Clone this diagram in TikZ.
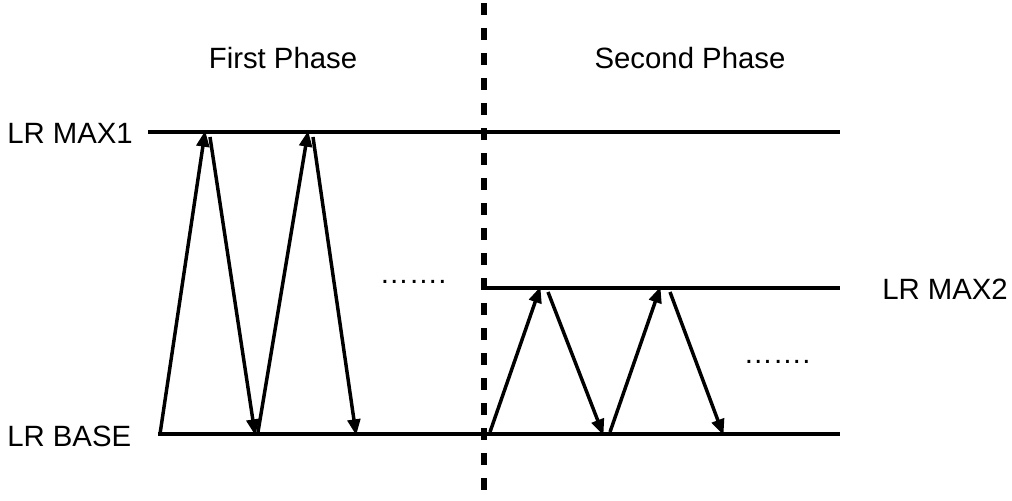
\documentclass[tikz,border=0pt]{standalone}
\usepackage{fontspec}
\setmainfont{Liberation Sans}
\usetikzlibrary{arrows.meta}
\begin{document}
\begin{tikzpicture}[x=0.75pt,y=-0.75pt,
  lvl/.style={line width=2.8pt},
  arr/.style={line width=2.6pt,-{Triangle[length=12pt,width=9.5pt]},shorten >=-1pt},
  lbl/.style={font=\fontsize{22}{26}\selectfont,inner sep=0pt},
  phasesep/.style={line width=3.8pt,dash pattern=on 9pt off 9.75pt}]
\useasboundingbox (0,0) rectangle (1012,500);
% phase separator
\coordinate (st) at (484,3);
\coordinate (sb) at (484,500);
\draw[phasesep] (st) -- (sb);
% levels
\coordinate (m1l) at (148,132); \coordinate (m1r) at (840,132);
\coordinate (bl) at (158,434); \coordinate (br) at (840,434);
\coordinate (m2l) at (487,288); \coordinate (m2r) at (840,288);
\draw[lvl] (m1l) -- (m1r);
\draw[lvl] (bl) -- (br);
\draw[lvl] (m2l) -- (m2r);
% labels
\node[lbl] (fp) at (283,58) {First Phase};
\node[lbl] (sp) at (690,58) {Second Phase};
\node[lbl,anchor=west] (lm1) at (7,133) {LR MAX1};
\node[lbl,anchor=west] (lb) at (7,436) {LR BASE};
\node[lbl,anchor=west] (lm2) at (882,289) {LR MAX2};
\node[lbl] (d1) at (413,282) {…….};
\node[lbl] (d2) at (777,362) {…….};
% first phase arrows
\coordinate (a1s) at (160,434); \coordinate (a1e) at (205,132);
\coordinate (a2s) at (210,137); \coordinate (a2e) at (255,434);
\coordinate (a3s) at (258,432); \coordinate (a3e) at (308,132);
\coordinate (a4s) at (313,137); \coordinate (a4e) at (356,434);
\draw[arr] (a1s) -- (a1e);
\draw[arr] (a2s) -- (a2e);
\draw[arr] (a3s) -- (a3e);
\draw[arr] (a4s) -- (a4e);
% second phase arrows
\coordinate (b1s) at (490,432); \coordinate (b1e) at (540,288);
\coordinate (b2s) at (548,292); \coordinate (b2e) at (603,434);
\coordinate (b3s) at (610,432); \coordinate (b3e) at (660,288);
\coordinate (b4s) at (670,292); \coordinate (b4e) at (723,434);
\draw[arr] (b1s) -- (b1e);
\draw[arr] (b2s) -- (b2e);
\draw[arr] (b3s) -- (b3e);
\draw[arr] (b4s) -- (b4e);
\end{tikzpicture}
\end{document}
